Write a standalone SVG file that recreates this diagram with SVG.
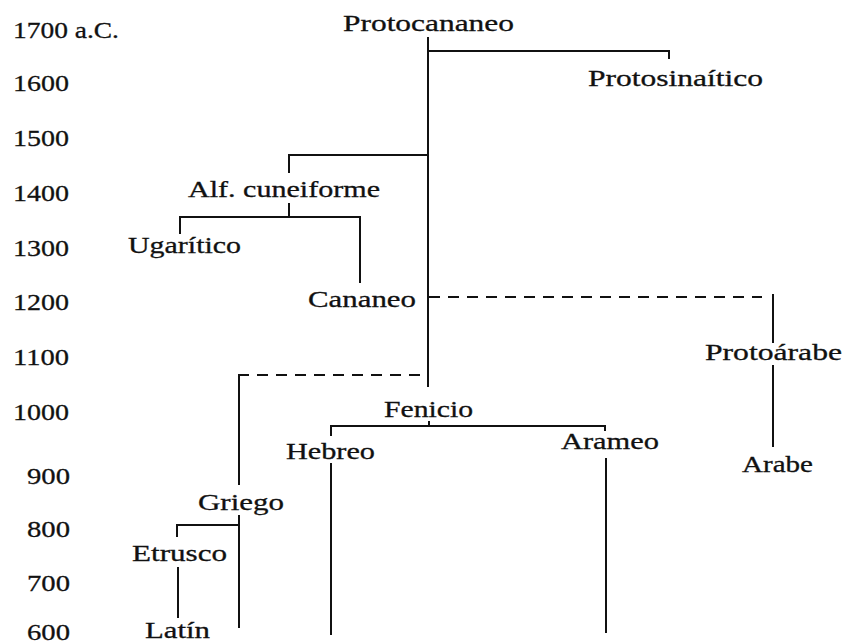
<svg xmlns="http://www.w3.org/2000/svg" width="843" height="644" viewBox="0 0 843 644">
<style>
text{font-family:"Liberation Serif","Times New Roman",serif;fill:#111;stroke:#111;stroke-width:0.3;}
.yr{font-size:24px;}
.lb{font-size:23.5px;}
.ln{stroke:#111;stroke-width:2;fill:none;stroke-linecap:butt;}
.ds{stroke:#111;stroke-width:2;fill:none;stroke-dasharray:11 8;}
</style>
<rect width="843" height="644" fill="#fff"/>
<g id="years">
<text class="yr" x="13" y="38" textLength="106" lengthAdjust="spacingAndGlyphs">1700 a.C.</text>
<text class="yr" x="13" y="91" textLength="56" lengthAdjust="spacingAndGlyphs">1600</text>
<text class="yr" x="13" y="146" textLength="56" lengthAdjust="spacingAndGlyphs">1500</text>
<text class="yr" x="13" y="201" textLength="56" lengthAdjust="spacingAndGlyphs">1400</text>
<text class="yr" x="13" y="256" textLength="56" lengthAdjust="spacingAndGlyphs">1300</text>
<text class="yr" x="13" y="310" textLength="56" lengthAdjust="spacingAndGlyphs">1200</text>
<text class="yr" x="13" y="365" textLength="56" lengthAdjust="spacingAndGlyphs">1100</text>
<text class="yr" x="13" y="420" textLength="56" lengthAdjust="spacingAndGlyphs">1000</text>
<text class="yr" x="27" y="484" textLength="43" lengthAdjust="spacingAndGlyphs">900</text>
<text class="yr" x="27" y="537" textLength="43" lengthAdjust="spacingAndGlyphs">800</text>
<text class="yr" x="27" y="591" textLength="43" lengthAdjust="spacingAndGlyphs">700</text>
<text class="yr" x="27" y="640" textLength="43" lengthAdjust="spacingAndGlyphs">600</text>
</g>
<g id="connectors">
<path class="ln" d="M428 37V387"/>
<path class="ln" d="M428 51H669V59"/>
<path class="ln" d="M428 155H289V173"/>
<path class="ln" d="M289 203V217"/>
<path class="ln" d="M180 234V217H360V283"/>
<path class="ds" d="M429 297H762"/>
<path class="ln" d="M773 294V343"/>
<path class="ln" d="M773 365V447"/>
<path class="ds" d="M420 375H247"/>
<path class="ln" d="M248 375H239V485"/>
<path class="ln" d="M429 421V426"/>
<path class="ln" d="M331 436V426H605V431"/>
<path class="ln" d="M331 463V635"/>
<path class="ln" d="M606 458V633"/>
<path class="ln" d="M239 515V628"/>
<path class="ln" d="M239 525H177V537"/>
<path class="ln" d="M178 567V618"/>
</g>
<g id="protocananeo"><text class="lb" x="343" y="31" textLength="171" lengthAdjust="spacingAndGlyphs">Protocananeo</text></g>
<g id="protosinaitico"><text class="lb" x="588" y="86" textLength="175" lengthAdjust="spacingAndGlyphs">Protosinaítico</text></g>
<g id="alf-cuneiforme"><text class="lb" x="188" y="197" textLength="192" lengthAdjust="spacingAndGlyphs">Alf. cuneiforme</text></g>
<g id="ugaritico"><text class="lb" x="128" y="253" textLength="113" lengthAdjust="spacingAndGlyphs">Ugarítico</text></g>
<g id="cananeo"><text class="lb" x="308" y="307" textLength="108" lengthAdjust="spacingAndGlyphs">Cananeo</text></g>
<g id="protoarabe"><text class="lb" x="705" y="360" textLength="137" lengthAdjust="spacingAndGlyphs">Protoárabe</text></g>
<g id="arabe"><text class="lb" x="742" y="472" textLength="71" lengthAdjust="spacingAndGlyphs">Arabe</text></g>
<g id="fenicio"><text class="lb" x="384" y="417" textLength="89" lengthAdjust="spacingAndGlyphs">Fenicio</text></g>
<g id="hebreo"><text class="lb" x="286" y="459" textLength="89" lengthAdjust="spacingAndGlyphs">Hebreo</text></g>
<g id="arameo"><text class="lb" x="561" y="449" textLength="98" lengthAdjust="spacingAndGlyphs">Arameo</text></g>
<g id="griego"><text class="lb" x="198" y="510" textLength="86" lengthAdjust="spacingAndGlyphs">Griego</text></g>
<g id="etrusco"><text class="lb" x="132" y="561" textLength="95" lengthAdjust="spacingAndGlyphs">Etrusco</text></g>
<g id="latin"><text class="lb" x="145" y="638" textLength="65" lengthAdjust="spacingAndGlyphs">Latín</text></g>
</svg>
